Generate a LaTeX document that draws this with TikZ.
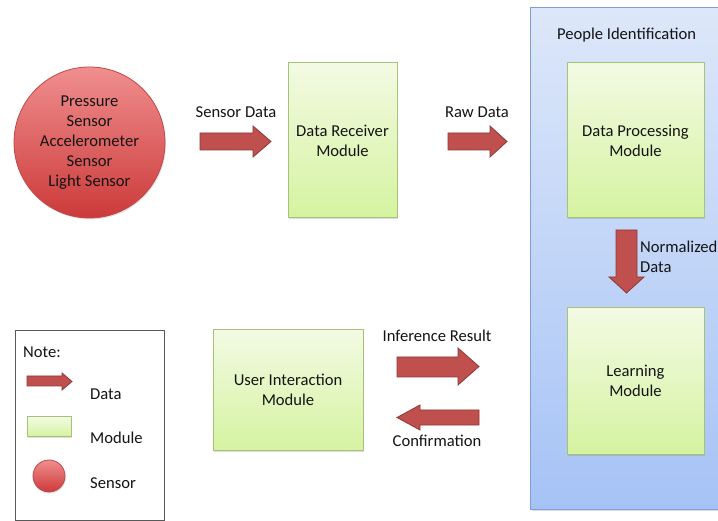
\documentclass[tikz,border=0pt]{standalone}
\usepackage{fontspec}
\setmainfont{Carlito}
\usetikzlibrary{shadows}
\definecolor{modtop}{HTML}{F3FAE3}
\definecolor{modbot}{HTML}{D5F3A0}
\definecolor{modline}{HTML}{A6C27A}
\definecolor{sentop}{HTML}{F08E8E}
\definecolor{senbot}{HTML}{CC3A3A}
\definecolor{senline}{HTML}{C04848}
\definecolor{arrfill}{HTML}{C0504D}
\definecolor{arrline}{HTML}{8C3836}
\definecolor{pitop}{HTML}{DDE7F9}
\definecolor{pibot}{HTML}{A6C3F6}
\definecolor{piline}{HTML}{7F9FD4}
\definecolor{txtcol}{HTML}{141414}
\tikzset{
  txt/.style={font=\fontsize{16.6}{20}\selectfont, text=txtcol, inner sep=0pt, align=center},
  module/.style={rectangle, draw=modline, line width=1pt, top color=modtop, bottom color=modbot,
    drop shadow={opacity=0.25, shadow xshift=1pt, shadow yshift=-1.5pt}, txt},
  sensor/.style={circle, draw=senline, line width=0.8pt, top color=sentop, bottom color=senbot,
    drop shadow={opacity=0.2, shadow xshift=1pt, shadow yshift=-1.5pt}, txt},
  blockarrow/.style={fill=arrfill, draw=arrline, line width=0.8pt, line join=miter},
  group/.style={rectangle, draw=piline, line width=1pt, top color=pitop, bottom color=pibot,
    drop shadow={opacity=0.25, shadow xshift=1pt, shadow yshift=-1.5pt}},
  notebox/.style={rectangle, draw=black!65, line width=1.2pt, fill=white}
}
\begin{document}
\begin{tikzpicture}[x=1pt, y=-1pt]
\useasboundingbox (0,0) rectangle (718,521);
\fill[white] (0,0) rectangle (718,521);

% group box
\node[group, anchor=north west, minimum width=200pt, minimum height=502pt] (pi) at (530,7) {};
\node[txt] (pititle) at (626.5,35) {People Identification};

% sensor
\node[sensor, minimum size=151pt] (sensor) at (89.5,142.5)
  {Pressure\\Sensor\\Accelerometer\\Sensor\\Light Sensor};

% modules
\node[module, minimum width=109pt, minimum height=155pt] (recv) at (342.5,140.5) {Data Receiver\\Module};
\node[module, minimum width=137pt, minimum height=155pt] (proc) at (635.5,140.5) {Data Processing\\Module};
\node[module, minimum width=137pt, minimum height=146pt] (learn) at (635.5,381) {Learning\\Module};
\node[module, minimum width=150pt, minimum height=120pt] (ui) at (288,390) {User Interaction\\Module};

% arrows
\draw[blockarrow] (200,133)--(253,133)--(253,126)--(271,141.5)--(253,157)--(253,150)--(200,150)--cycle;
\node[txt] (lsd) at (236,112) {Sensor Data};
\draw[blockarrow] (448,133)--(490,133)--(490,126)--(507,141.5)--(490,157)--(490,150)--(448,150)--cycle;
\node[txt] (lrd) at (477,112) {Raw Data};
\draw[blockarrow] (616,230)--(637,230)--(637,277)--(644,277)--(626.5,293)--(609,277)--(616,277)--cycle;
\node[txt, anchor=west, align=left] (lnd) at (640,257) {Normalized\\Data};
\draw[blockarrow] (397,357)--(458,357)--(458,348)--(479,366.5)--(458,385)--(458,377)--(397,377)--cycle;
\node[txt] (lir) at (437,336) {Inference Result};
\draw[blockarrow] (479,410)--(420,410)--(420,405)--(397,417.5)--(420,430)--(420,425)--(479,425)--cycle;
\node[txt] (lcf) at (437,441) {Confirmation};

% legend
\node[notebox, anchor=north west, minimum width=149.5pt, minimum height=190pt] (note) at (14.5,330) {};
\node[txt, anchor=west] (nt) at (23,352) {Note:};
\draw[blockarrow] (27,376)--(62,376)--(62,373)--(72,381.5)--(62,390)--(62,386)--(27,386)--cycle;
\node[txt, anchor=west] (ld) at (90,394) {Data};
\node[module, minimum width=44pt, minimum height=19pt] (lm) at (49,426.5) {};
\node[txt, anchor=west] (lmt) at (90,438) {Module};
\node[sensor, minimum size=32pt] (ls) at (49,476) {};
\node[txt, anchor=west] (lst) at (90,483) {Sensor};
\end{tikzpicture}
\end{document}
